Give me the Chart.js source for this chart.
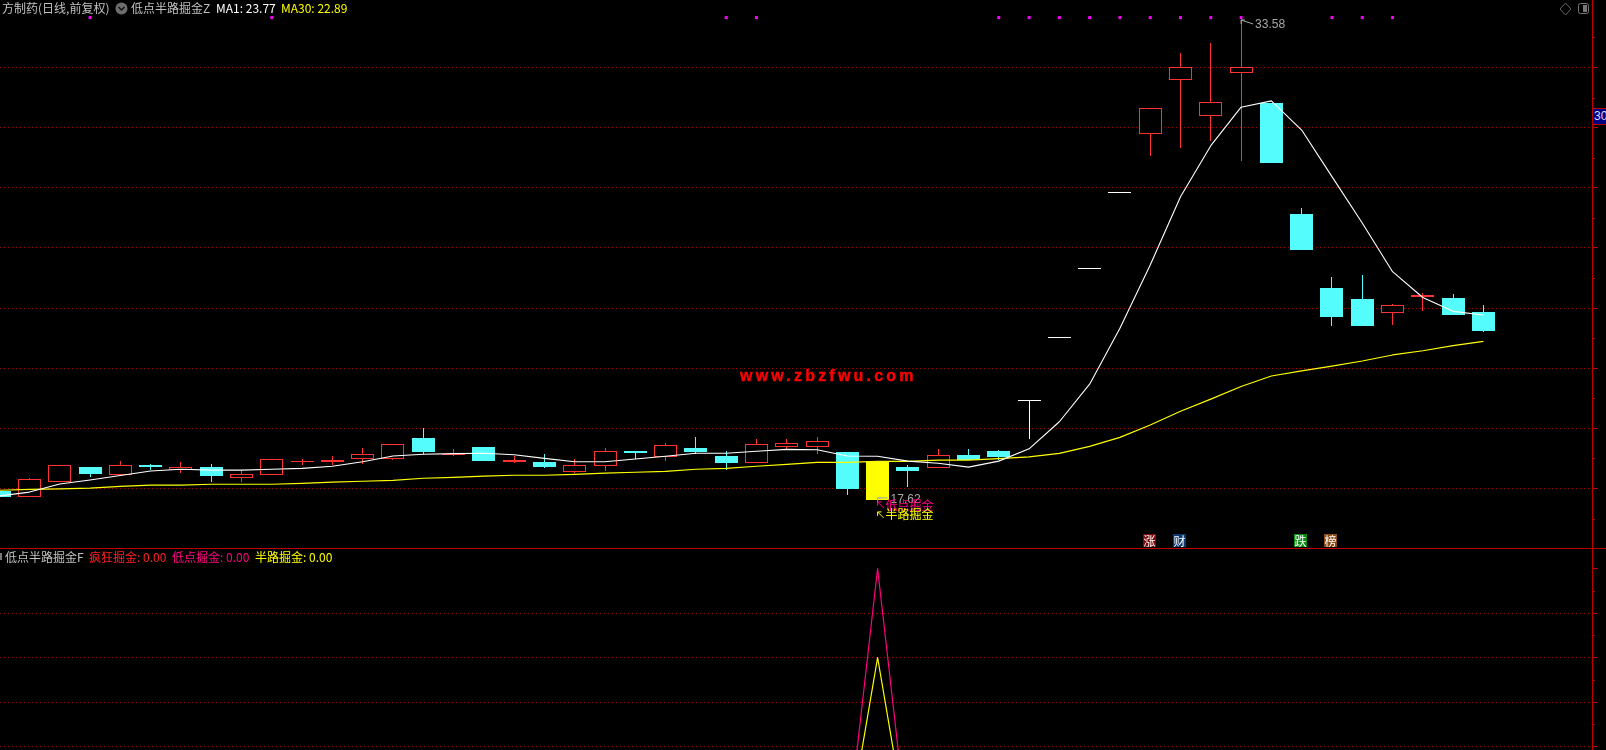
<!DOCTYPE html>
<html>
<head>
<meta charset="utf-8">
<title>低点半路掘金</title>
<script src="https://cdn.jsdelivr.net/npm/chart.js@4/dist/chart.umd.js"></script>
<style>
    html, body { margin: 0; padding: 0; background: #000; }
    #stage { position: relative; width: 1606px; height: 750px; overflow: hidden; background: #000; font-family: "Noto Sans CJK SC", "Noto Sans", sans-serif; font-size: 12px; }
    canvas { position: absolute; left: 0; }
    #price-chart { top: 0; }
    #signal-chart { top: 549px; }
    .label { position: absolute; white-space: nowrap; line-height: 16px; height: 16px; }
    .badge { position: absolute; width: 13px; height: 13px; top: 534px; line-height: 13px; text-align: center; color: #fff; }
    #divider { position: absolute; left: 0; top: 548px; width: 1606px; height: 1px; background: #c00000; }
    #watermark { position: absolute; left: 740px; top: 366px; color: #ff0000; font: bold 16px "Liberation Sans", sans-serif; -webkit-text-stroke: 0.4px #ff0000; letter-spacing: 3.2px; line-height: 20px; white-space: nowrap; }
    #axis-flag { position: absolute; left: 1593px; top: 108px; width: 13px; height: 15px; overflow: hidden; background: #000080; border-top: 1px solid #c00000; border-bottom: 1px solid #c00000; color: #d8d8ff; line-height: 15px; font-family: "Liberation Sans", sans-serif; white-space: nowrap; padding-left: 1px; box-sizing: content-box; }
    svg { position: absolute; }
</style>
</head>
<body>
<div id="stage">
    <canvas id="price-chart" width="1606" height="548"></canvas>
    <canvas id="signal-chart" width="1606" height="201"></canvas>
    <div id="divider"></div>

    <span class="label" style="left:2px;top:0;color:#c0c0c0">方制药(日线,前复权)</span>
    <svg style="left:115px;top:2px" width="13" height="13"><circle cx="6.5" cy="6.5" r="6" fill="#6e6e6e"/><polyline points="3.5,5 6.5,8 9.5,5" fill="none" stroke="#111" stroke-width="1.5"/></svg>
    <span class="label" style="left:131px;top:0;color:#c0c0c0">低点半路掘金Z</span>
    <span class="label" style="left:216px;top:0;color:#fff">MA1: 23.77</span>
    <span class="label" style="left:281px;top:0;color:#ffff00">MA30: 22.89</span>

    <svg style="left:1558px;top:1px" width="34" height="16">
        <polygon points="7.5,2 13,8 7.5,14 2,8" fill="none" stroke="#666"/>
        <rect x="20.5" y="2.5" width="10" height="10" rx="2" fill="none" stroke="#777"/>
        <rect x="25" y="4" width="4" height="7" fill="#777"/>
    </svg>
    <div id="axis-flag">30</div>

    <span id="watermark">www.zbzfwu.com</span>

    <span class="badge" style="left:1143px;background:#7d0a0a">涨</span>
    <span class="badge" style="left:1173px;background:#0b3a6e">财</span>
    <span class="badge" style="left:1294px;background:#0a8a12">跌</span>
    <span class="badge" style="left:1324px;background:#8a4a12">榜</span>

    <div style="position:absolute;left:0;top:553px;width:2px;height:7px;background:#777"></div>
    <span class="label" style="left:5px;top:549px;color:#c0c0c0">低点半路掘金F</span>
    <span class="label" style="left:89px;top:549px;color:#ff2020">疯狂掘金: 0.00</span>
    <span class="label" style="left:172px;top:549px;color:#ff0080">低点掘金: 0.00</span>
    <span class="label" style="left:255px;top:549px;color:#ffff00">半路掘金: 0.00</span>
</div>

<script>
// Daily candles
const opens = [17.92, 17.73, 18.23, 18.71, 18.46, 18.78, 18.63, 18.71, 18.36, 18.46,
    18.89, 18.88, 18.99, 18.99, 19.68, 19.10, 19.38, 18.88, 18.88, 18.56,
    18.76, 19.25, 19.06, 19.35, 19.08, 18.86, 19.39, 19.39, 19.21, 18.91,
    18.71, 18.68, 19.11, 19.25, 20.93, 23.04, 25.32, 27.85, 29.80, 31.60,
    30.40, 31.83, 30.82, 27.13, 24.67, 24.30, 23.85, 24.37, 24.34, 23.87];
const closes = [17.72, 18.31, 18.77, 18.48, 18.77, 18.71, 18.71, 18.42, 18.47, 18.97,
    18.91, 18.95, 19.14, 19.47, 19.21, 19.15, 18.91, 18.95, 18.71, 18.78,
    19.24, 19.18, 19.44, 19.21, 18.85, 19.47, 19.51, 19.57, 17.98, 17.62,
    18.58, 19.11, 18.95, 19.05, 20.93, 23.04, 25.32, 27.85, 30.64, 32.01,
    30.84, 32.01, 28.82, 25.93, 23.70, 23.40, 24.09, 24.43, 23.77, 23.24];
const highs = [17.92, 18.35, 18.77, 18.71, 18.91, 18.81, 18.88, 18.81, 18.61, 18.97,
    18.98, 19.08, 19.35, 19.47, 20.01, 19.31, 19.38, 19.08, 19.15, 18.98,
    19.35, 19.25, 19.51, 19.71, 19.25, 19.65, 19.65, 19.71, 19.21, 18.91,
    18.77, 19.31, 19.31, 19.28, 20.93, 23.04, 25.32, 27.85, 30.64, 32.48,
    32.82, 33.58, 30.82, 27.33, 25.03, 25.10, 24.14, 24.50, 24.47, 24.10];
const lows = [17.72, 17.73, 18.23, 18.38, 18.46, 18.61, 18.53, 18.22, 18.22, 18.46,
    18.78, 18.78, 18.82, 18.95, 19.15, 19.08, 18.91, 18.85, 18.68, 18.52,
    18.58, 18.98, 18.91, 19.15, 18.62, 18.86, 19.31, 19.15, 17.78, 17.62,
    18.05, 18.68, 18.95, 18.95, 19.66, 23.04, 25.32, 27.85, 29.07, 29.33,
    29.57, 28.90, 28.82, 25.93, 23.40, 23.40, 23.44, 23.90, 23.77, 23.20];

const ma1 = [17.75, 17.88, 18.15, 18.28, 18.43, 18.58, 18.64, 18.61, 18.61, 18.64,
    18.67, 18.74, 18.89, 19.08, 19.14, 19.16, 19.17, 19.12, 19.00, 18.89,
    18.89, 18.98, 19.07, 19.17, 19.17, 19.24, 19.30, 19.29, 19.08, 19.07,
    18.91, 18.84, 18.71, 18.91, 19.32, 20.22, 21.47, 23.33, 25.43, 27.70,
    29.40, 30.68, 30.89, 29.92, 28.37, 26.83, 25.21, 24.35, 23.89, 23.77];
const ma30 = [17.94, 17.97, 17.99, 18.01, 18.07, 18.11, 18.11, 18.14, 18.14, 18.14,
    18.17, 18.21, 18.24, 18.27, 18.34, 18.37, 18.41, 18.44, 18.44, 18.47,
    18.51, 18.54, 18.57, 18.64, 18.67, 18.74, 18.80, 18.87, 18.87, 18.90,
    18.90, 18.94, 18.94, 18.99, 19.05, 19.17, 19.40, 19.70, 20.11, 20.57,
    20.97, 21.39, 21.74, 21.91, 22.07, 22.24, 22.44, 22.58, 22.75, 22.89];

// Lower panel indicator values
const crazyGold = [0, 0, 0, 0, 0, 0, 0, 0, 0, 0, 0, 0, 0, 0, 0, 0, 0, 0, 0, 0, 0, 0, 0, 0, 0,
    0, 0, 0, 0, 0, 0, 0, 0, 0, 0, 0, 0, 0, 0, 0, 0, 0, 0, 0, 0, 0, 0, 0, 0, 0];
const lowGold = [0, 0, 0, 0, 0, 0, 0, 0, 0, 0, 0, 0, 0, 0, 0, 0, 0, 0, 0, 0, 0, 0, 0, 0, 0,
    0, 0, 0, 0, 3, 0, 0, 0, 0, 0, 0, 0, 0, 0, 0, 0, 0, 0, 0, 0, 0, 0, 0, 0, 0];
const halfwayGold = [0, 0, 0, 0, 0, 0, 0, 0, 0, 0, 0, 0, 0, 0, 0, 0, 0, 0, 0, 0, 0, 0, 0, 0, 0,
    0, 0, 0, 0, 2, 0, 0, 0, 0, 0, 0, 0, 0, 0, 0, 0, 0, 0, 0, 0, 0, 0, 0, 0, 0];

// Days flagged by the magenta dots along the top, and the day drawn solid yellow
const signalDays = [3, 9, 24, 25, 33, 34, 35, 36, 37, 38, 39, 40, 41, 44, 45, 46];
const signalLevel = 33.66;
const yellowDay = 29;

const priceTicks = [18, 20, 22, 24, 26, 28, 30, 32];
const priceMinorTicks = [17, 19, 21, 23, 25, 27, 29, 31, 33];
const signalTicks = [1, 1.5, 2, 2.5, 3];
const signalMinorTicks = [1.25, 1.75, 2.25, 2.75];

const days = opens.map((_, i) => i);

const RED = '#ff3232';
const CYAN = '#54fcfc';
const YELLOW = '#ffff00';
const PINK = '#ff0080';
const AXIS_RED = '#c00000';
const GRID_RED = '#a80000';

function candleColor(i) {
    if (i === yellowDay) return YELLOW;
    if (closes[i] > opens[i]) return RED;
    if (closes[i] < opens[i]) return CYAN;
    return '#ffffff';
}

const candleColors = days.map(candleColor);
// red candles are hollow
const bodyFills = days.map(i => candleColors[i] === RED ? '#000000' : candleColors[i]);

// Snap bars to whole pixels so the candles stay sharp
const snapCandles = {
    id: 'snapCandles',
    afterDatasetsUpdate(chart) {
        chart.getSortedVisibleDatasetMetas().forEach(meta => {
            if (meta.type !== 'bar') return;
            meta.data.forEach(bar => {
                bar.x = Math.floor(bar.x) + 0.5;
                const top = Math.round(Math.min(bar.y, bar.base));
                let bottom = Math.round(Math.max(bar.y, bar.base));
                if (bottom === top) bottom = top + 1;
                bar.y = top;
                bar.base = bottom;
            });
        });
    }
};

function minorTicksPlugin(values) {
    return {
        id: 'minorTicks',
        afterDraw(chart) {
            const ctx = chart.ctx;
            const scale = chart.scales.y;
            ctx.save();
            ctx.strokeStyle = AXIS_RED;
            ctx.lineWidth = 1;
            values.forEach(v => {
                const y = Math.round(scale.getPixelForValue(v)) + 0.5;
                ctx.beginPath();
                ctx.moveTo(scale.left, y);
                ctx.lineTo(scale.left + 3, y);
                ctx.stroke();
            });
            ctx.restore();
        }
    };
}

function drawArrow(ctx, x0, y0, x1, y1, color) {
    ctx.strokeStyle = color;
    ctx.lineWidth = 1;
    ctx.beginPath();
    ctx.moveTo(x0, y0);
    ctx.lineTo(x1, y1);
    ctx.moveTo(x0, y0);
    ctx.lineTo(x0 + 4, y0);
    ctx.moveTo(x0, y0);
    ctx.lineTo(x0, y0 + 4);
    ctx.stroke();
}

// High / low callouts and the signal names hanging off the yellow candle
const priceNotes = {
    id: 'priceNotes',
    afterDatasetsDraw(chart) {
        const ctx = chart.ctx;
        const x = chart.scales.x;
        const y = chart.scales.y;
        const peak = highs.indexOf(Math.max(...highs));
        const trough = lows.indexOf(Math.min(...lows));
        const tipX = x.getPixelForValue(peak);
        const tipY = y.getPixelForValue(highs[peak]);
        const lowX = x.getPixelForValue(trough);
        const lowY = y.getPixelForValue(lows[trough]);

        ctx.save();
        ctx.textBaseline = 'middle';
        drawArrow(ctx, tipX, tipY, tipX + 12, tipY + 4, '#a8a8a8');
        ctx.fillStyle = '#a8a8a8';
        ctx.font = '12px "Liberation Sans"';
        ctx.fillText(highs[peak].toFixed(2), tipX + 14, tipY + 5);

        drawArrow(ctx, lowX, lowY - 2, lowX + 10, lowY - 2, '#a8a8a8');
        ctx.fillText(lows[trough].toFixed(2), lowX + 13, lowY);

        ctx.font = '12px "Noto Sans CJK SC"';
        drawArrow(ctx, lowX, lowY + 2, lowX + 6, lowY + 8, PINK);
        ctx.fillStyle = PINK;
        ctx.fillText('低点掘金', lowX + 8, lowY + 6);
        drawArrow(ctx, lowX, lowY + 12, lowX + 6, lowY + 18, YELLOW);
        ctx.fillStyle = YELLOW;
        ctx.fillText('半路掘金', lowX + 8, lowY + 15);
        ctx.restore();
    }
};

function lineDataset(label, data, color, order, width) {
    return { type: 'line', label, data, borderColor: color, borderWidth: width, borderJoinStyle: 'round', pointRadius: 0, tension: 0, order };
}

function yAxis(min, max, tickValues, hideGridAt) {
    return {
        position: 'right',
        min,
        max,
        afterBuildTicks: scale => { scale.ticks = tickValues.map(value => ({ value })); },
        afterFit: scale => { scale.width = 14; },
        ticks: { display: false },
        border: { display: true, color: AXIS_RED, width: 1, dash: [1, 3] },
        grid: {
            color: c => (c.tick && c.tick.value === hideGridAt) ? 'rgba(0,0,0,0)' : GRID_RED,
            lineWidth: 1,
            drawTicks: true,
            tickLength: 6,
            tickColor: AXIS_RED,
            tickBorderDash: [],
            tickWidth: 1
        }
    };
}

const xAxis = {
    type: 'linear',
    display: false,
    offset: false,
    min: 0.8 / 30.29,
    max: 1592.8 / 30.29
};

const baseOptions = {
    responsive: false,
    animation: false,
    events: [],
    layout: { padding: 0, autoPadding: false },
    plugins: { legend: { display: false }, tooltip: { enabled: false } }
};

new Chart(document.getElementById('price-chart').getContext('2d'), {
    type: 'bar',
    data: {
        labels: days,
        datasets: [
            lineDataset('MA1', ma1, '#ffffff', 1, 1.1),
            lineDataset('MA30', ma30, YELLOW, 1, 1.2),
            {
                type: 'line',
                label: 'signal',
                data: signalDays.map(d => ({ x: d, y: signalLevel })),
                showLine: false,
                pointStyle: 'rect',
                pointRadius: 2.1,
                pointBackgroundColor: '#ff00ff',
                pointBorderWidth: 0,
                order: 0
            },
            {
                label: 'body',
                data: days.map(i => [opens[i], closes[i]]),
                backgroundColor: bodyFills,
                borderColor: candleColors,
                borderWidth: 1,
                borderSkipped: false,
                inflateAmount: 0,
                barThickness: 23,
                grouped: false,
                order: 2
            },
            {
                label: 'wick',
                data: days.map(i => [lows[i], highs[i]]),
                backgroundColor: candleColors,
                borderWidth: 0,
                inflateAmount: 0,
                barThickness: 1,
                grouped: false,
                order: 3
            }
        ]
    },
    options: Object.assign({}, baseOptions, {
        scales: {
            x: xAxis,
            y: yAxis(32 - 480.5 / 30.07, 32 + 67.5 / 30.07, priceTicks)
        }
    }),
    plugins: [snapCandles, minorTicksPlugin(priceMinorTicks), priceNotes]
});

new Chart(document.getElementById('signal-chart').getContext('2d'), {
    type: 'line',
    data: {
        labels: days,
        datasets: [
            lineDataset('疯狂掘金', crazyGold, '#ff2020', 3, 1.2),
            lineDataset('低点掘金', lowGold, PINK, 2, 1.2),
            lineDataset('半路掘金', halfwayGold, YELLOW, 1, 1.2)
        ]
    },
    options: Object.assign({}, baseOptions, {
        scales: {
            x: xAxis,
            y: yAxis(3 - 181.5 / 89, 3 + 19.5 / 89, signalTicks, 3)
        }
    }),
    plugins: [minorTicksPlugin(signalMinorTicks)]
});
</script>
</body>
</html>
